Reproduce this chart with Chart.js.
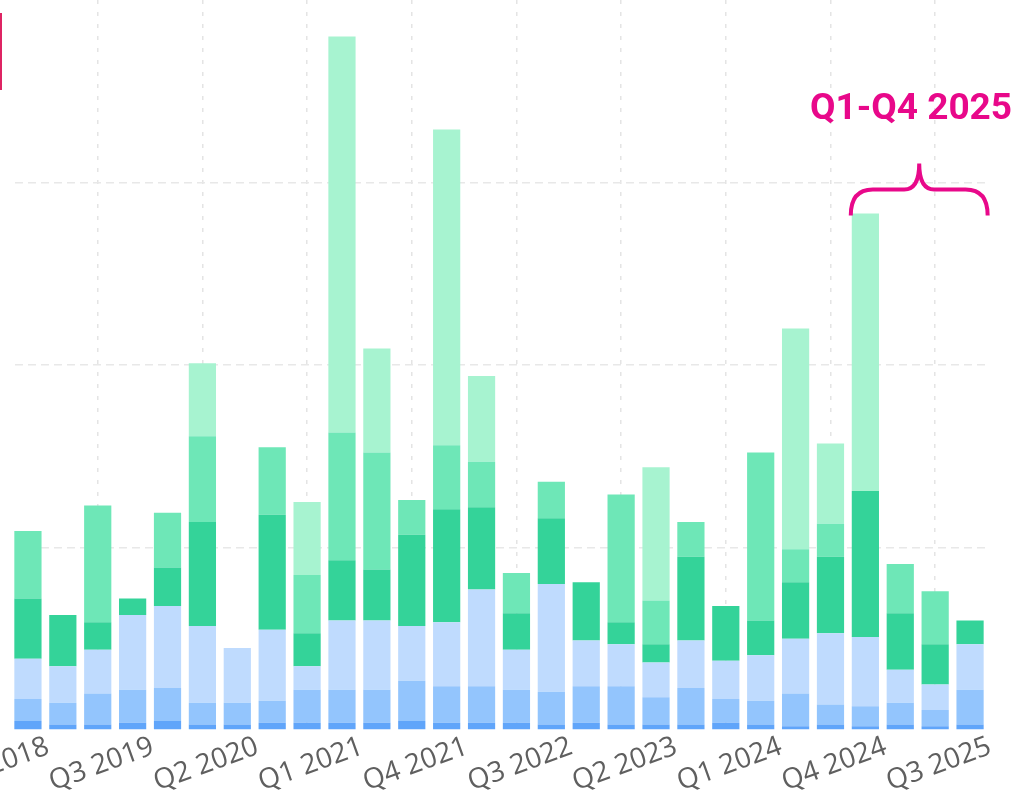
<!DOCTYPE html>
<html><head><meta charset="utf-8">
<script src="https://cdn.jsdelivr.net/npm/chart.js@4.4.1/dist/chart.umd.min.js"></script>
<style>
html,body{margin:0;padding:0;background:#fff;overflow:hidden;width:1017px;height:797px;}
#wrap{position:absolute;left:-40px;top:0;width:1057px;height:797px;}
#mask{position:absolute;left:0;top:0;width:11px;height:731px;background:#fff;}
#pinkbar{position:absolute;left:0;top:13px;width:2px;height:77px;background:#de2463;}
#title{position:absolute;left:761px;top:88px;width:300px;text-align:center;font-family:Roboto;font-weight:700;font-size:37px;line-height:1;color:#e8088a;white-space:nowrap;}
</style></head>
<body>
<div id="wrap"><canvas id="c" width="1057" height="797"></canvas></div>
<div id="mask"></div><div id="pinkbar"></div>
<div id="title">Q1-Q4 2025</div>
<script>
// Categories (first one is only partly visible at the left edge)
const categories = ['Q4 2018',
  'Q1 2019','Q2 2019','Q3 2019','Q4 2019',
  'Q1 2020','Q2 2020','Q3 2020','Q4 2020',
  'Q1 2021','Q2 2021','Q3 2021','Q4 2021',
  'Q1 2022','Q2 2022','Q3 2022','Q4 2022',
  'Q1 2023','Q2 2023','Q3 2023','Q4 2023',
  'Q1 2024','Q2 2024','Q3 2024','Q4 2024',
  'Q1 2025','Q2 2025','Q3 2025','Q4 2025'];

// Stacked series, bottom to top (grid step = 100)
const seriesA = [null, 5,3,3,4, 5,3,3,4, 4,4,4,5, 4,4,4,3, 4,3,3,3, 4,3,2,3, 2,3,2,3];
const seriesB = [null, 12,12,17,18, 18,12,12,12, 18,18,18,22, 20,20,18,18, 20,21,15,20, 13,13,18,11, 11,12,9,19];
const seriesC = [null, 22,20,24,41, 45,42,30,39, 13,38,38,30, 35,53,22,59, 25,23,19,26, 21,25,30,39, 38,18,14,25];
const seriesD = [null, 33,28,15,9, 21,57,null,63, 18,33,28,50, 62,45,20,36, 32,12,10,46, 30,19,31,42, 80,31,22,13];
const seriesE = [null, 37,null,64,null, 30,47,null,37, 32,70,64,19, 35,25,22,20, null,70,24,19, null,92,18,18, null,27,29,null];
const seriesF = [null, null,null,null,null, null,40,null,null, 40,217,57,null, 173,47,null,null, null,null,73,null, null,null,121,44, 152,null,null,null];
</script>
<script>
const colors = ['#60a5fa','#93c5fd','#bfdbfe','#34d399','#6ee7b7','#a7f3d0'];
const allSeries = [seriesA, seriesB, seriesC, seriesD, seriesE, seriesF];
const labelEvery = 3;
const braceFrom = 'Q1 2025', braceTo = 'Q4 2025';

const bracePlugin = {
  id: 'brace',
  afterDatasetsDraw(chart) {
    const xs = chart.scales.x, ys = chart.scales.y, ctx = chart.ctx;
    const i0 = categories.indexOf(braceFrom), i1 = categories.indexOf(braceTo);
    const meta = chart.getDatasetMeta(0);
    const half = meta.data[i0] ? meta.data[i0].width / 2 : 13;
    let total = 0; allSeries.forEach(s => total += (s[i0] || 0));
    const L = xs.getPixelForValue(i0) - half - 1;
    const R = xs.getPixelForValue(i1) + half + 4;
    const C = (L + R) / 2;
    const tip = ys.getPixelForValue(total) + 2;
    const mid = tip - 26, peak = tip - 52;
    ctx.save();
    ctx.strokeStyle = '#e8088a'; ctx.lineWidth = 4; ctx.lineCap = 'butt';
    ctx.beginPath();
    ctx.moveTo(L, tip);
    ctx.quadraticCurveTo(L, mid, L + 22, mid);
    ctx.lineTo(C - 15, mid);
    ctx.quadraticCurveTo(C, mid, C, peak);
    ctx.quadraticCurveTo(C, mid, C + 15, mid);
    ctx.lineTo(R - 22, mid);
    ctx.quadraticCurveTo(R, mid, R, tip);
    ctx.stroke();
    ctx.restore();
  }
};

new Chart(document.getElementById('c'), {
  type: 'bar',
  data: {
    labels: categories,
    datasets: allSeries.map((s, i) => ({
      data: s, backgroundColor: colors[i], borderWidth: 0,
      barPercentage: 0.78, categoryPercentage: 1.0
    }))
  },
  options: {
    responsive: false, animation: false, devicePixelRatio: 1,
    layout: { padding: { left: 15.6, right: 29.5, top: 0, bottom: 0 } },
    plugins: { legend: { display: false }, tooltip: { enabled: false } },
    scales: {
      x: {
        stacked: true,
        border: { display: false, dash: [4, 8] },
        grid: { offset: false, drawTicks: false, lineWidth: 1.5,
          color: c => (c.index % labelEvery === 0 ? '#e4e4e4' : 'rgba(0,0,0,0)') },
        ticks: {
          autoSkip: false, minRotation: 20, maxRotation: 20, padding: 0, labelOffset: 55,
          color: '#5f5f5f', font: { family: 'Open Sans', size: 28 },
          callback: function (v, i) { return i % labelEvery === 0 ? this.getLabelForValue(v) : ''; }
        },
        afterFit: s => { s.height = 67; s.paddingLeft = 0; s.paddingRight = 0; }
      },
      y: {
        stacked: true, min: 0, max: 400,
        border: { display: false, dash: [8, 5] },
        grid: { drawTicks: false, lineWidth: 1.5,
          color: c => (c.tick && c.tick.value > 0 && c.tick.value < 400 ? '#e8e8e8' : 'rgba(0,0,0,0)') },
        ticks: { display: false, stepSize: 100 },
        afterFit: s => { s.width = 0; }
      }
    }
  },
  plugins: [bracePlugin]
});
</script>
</body></html>
